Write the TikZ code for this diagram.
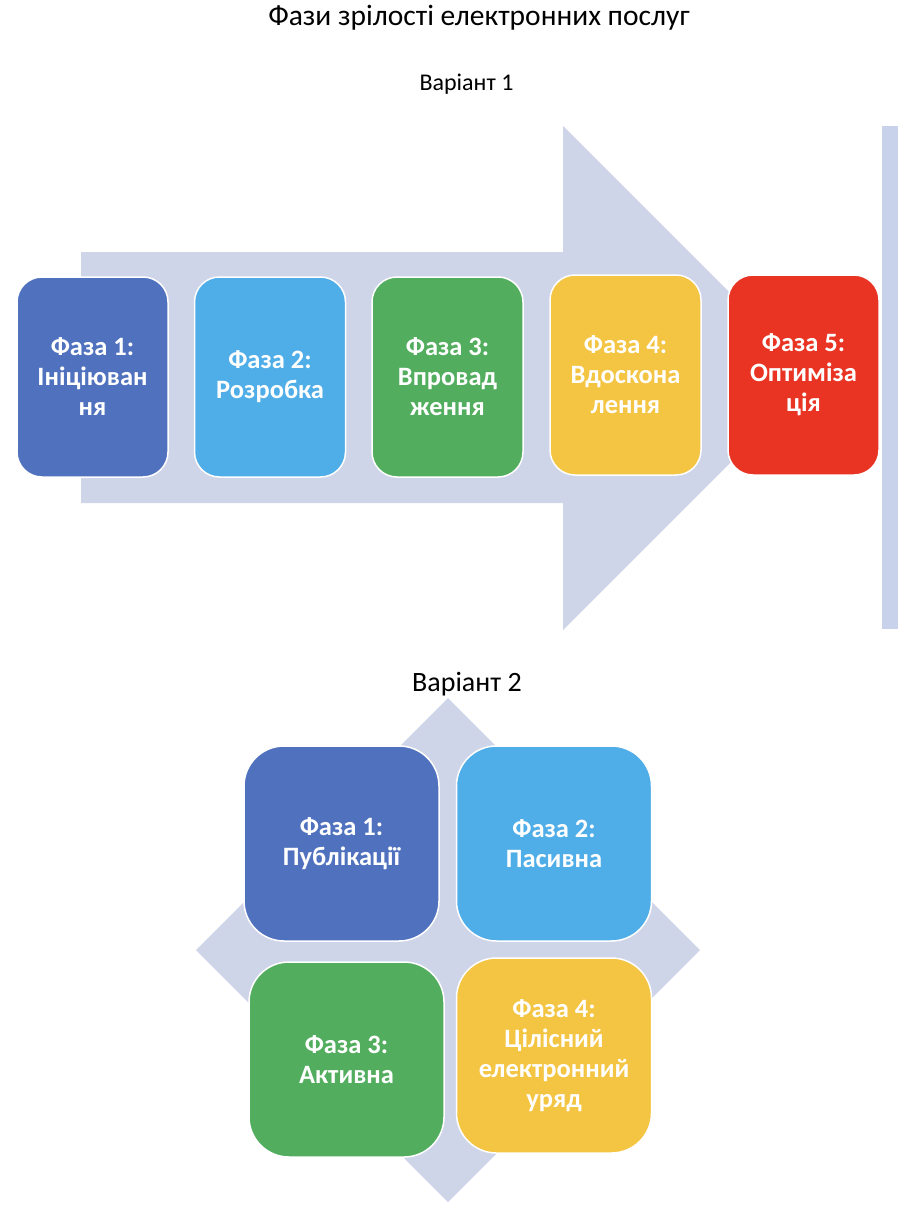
\documentclass[tikz,border=0pt]{standalone}
\usepackage{fontspec}
\setmainfont{Carlito}
\usetikzlibrary{positioning}

\definecolor{arrowgray}{HTML}{CFD5E8}
\definecolor{bargray}{HTML}{C8D2EA}
\definecolor{phaseblue}{HTML}{5072BE}
\definecolor{phasesky}{HTML}{4FADE8}
\definecolor{phasegreen}{HTML}{52AE5E}
\definecolor{phaseyellow}{HTML}{F4C443}
\definecolor{phasered}{HTML}{E93424}

\tikzset{
	phase/.style={draw=white, line width=1.5pt, text=white, align=center,
		inner sep=0pt, font=\bfseries\fontsize{26.5}{30}\selectfont},
	rowbox/.style={phase, rounded corners=25pt, minimum width=151pt, minimum height=200pt},
	gridbox/.style={phase, rounded corners=40pt, minimum width=195pt, minimum height=195pt},
}

\begin{document}
\begin{tikzpicture}[x=1pt,y=-1pt]
		\useasboundingbox (0,0) rectangle (918,1212);
		% titles
		\node (title) at (479,18) {\fontsize{29.5}{34}\selectfont Фази зрілості електронних послуг};
		\node (var1) at (466.5,84) {\fontsize{24}{28}\selectfont Варіант 1};
		\node (var2) at (467,684) {\fontsize{28}{32}\selectfont Варіант 2};
		% variant 1: arrow and bar
		\fill[arrowgray] (81,252) -- (563,252) -- (563,126) -- (815,378) -- (563,630)
			-- (563,503) -- (81,503) -- cycle;
		\fill[bargray] (882,126) rectangle (898,629);
		\node[rowbox, fill=phaseblue] (a1) at (92.5,377) {Фаза 1:\\Ініціюван\\ня};
		\node[rowbox, fill=phasesky] (a2) at (270,377) {Фаза 2:\\Розробка};
		\node[rowbox, fill=phasegreen] (a3) at (447.5,377) {Фаза 3:\\Впровад\\ження};
		\node[rowbox, fill=phaseyellow] (a4) at (625.5,375) {Фаза 4:\\Вдоскона\\лення};
		\node[rowbox, fill=phasered] (a5) at (803.5,375) {Фаза 5:\\Оптиміза\\ція};
		% variant 2: diamond and grid
		\fill[arrowgray] (448,698) -- (700,950) -- (448,1202) -- (196,950) -- cycle;
		\node[gridbox, fill=phaseblue] (b1) at (341.5,843.5) {Фаза 1:\\Публікації};
		\node[gridbox, fill=phasesky] (b2) at (554,843.5) {Фаза 2:\\Пасивна};
		\node[gridbox, fill=phasegreen] (b3) at (346.5,1059.5) {Фаза 3:\\Активна};
		\node[gridbox, fill=phaseyellow] (b4) at (554,1055.5) {Фаза 4:\\Цілісний\\електронний\\уряд};
	\end{tikzpicture}
\end{document}
